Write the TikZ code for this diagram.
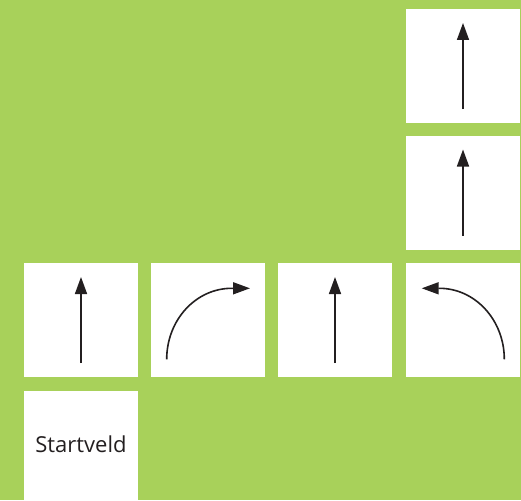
\documentclass[tikz,border=0pt]{standalone}
\usepackage{fontspec}
\setmainfont{Open Sans}
\usetikzlibrary{arrows.meta}
\definecolor{field}{RGB}{168,209,90}
\definecolor{ink}{RGB}{35,31,32}
\tikzset{
  tile/.style={fill=white, draw=none, minimum width=114pt, minimum height=114pt, inner sep=0pt},
  arr/.style={draw=ink, line width=1.6pt, -{Triangle[length=17pt, width=12pt]}},
  label/.style={text=ink, font=\fontsize{22}{26}\selectfont, inner sep=0pt}
}
\begin{document}
\begin{tikzpicture}[x=1pt, y=1pt]
  \useasboundingbox (0,0) rectangle (521,-500);
  \clip (0,0) rectangle (521,-500);
  \fill[field] (0,0) rectangle (521,-500);

  % tiles of the track
  \node[tile] (t1) at (463,-66) {};
  \node[tile] (t2) at (463,-192.5) {};
  \node[tile] (s1) at (81,-320) {};
  \node[tile] (s2) at (208,-320) {};
  \node[tile] (s3) at (335,-320) {};
  \node[tile] (s4) at (463,-320) {};
  \node[tile] (st) at (81,-448) {};
  \node[label] (stl) at (81,-444) {Startveld};

  % straight moves
  \draw[arr] ([yshift=-43pt]t1.center) -- ([yshift=43pt]t1.center);
  \draw[arr] ([yshift=-43pt]t2.center) -- ([yshift=43pt]t2.center);
  \draw[arr] ([yshift=-43pt]s1.center) -- ([yshift=43pt]s1.center);
  \draw[arr] ([yshift=-43pt]s3.center) -- ([yshift=43pt]s3.center);

  % turns
  \draw[arr] ([shift={(-41.3,-39.3)}]s2.center)
     arc[start angle=180, end angle=90, x radius=65, y radius=71] -- ++(18.3,0);
  \draw[arr] ([shift={(41.3,-39.3)}]s4.center)
     arc[start angle=0, end angle=90, x radius=65, y radius=71] -- ++(-17.6,0);
\end{tikzpicture}
\end{document}
